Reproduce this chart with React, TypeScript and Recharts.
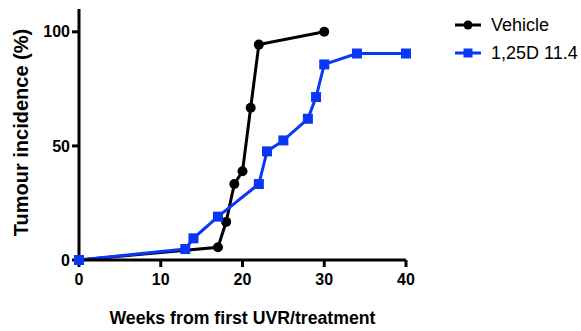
import React from "react";
import { LineChart, Line, XAxis, YAxis } from "recharts";

const vehicleWeeks = [0, 17, 18, 19, 20, 21, 22, 30];
const vehicleIncidence = [0, 5.6, 16.7, 33.3, 38.9, 66.7, 94.4, 100];
const treatWeeks = [0, 13, 14, 17, 22, 23, 25, 28, 29, 30, 34, 40];
const treatIncidence = [0, 4.8, 9.5, 19.0, 33.3, 47.6, 52.4, 61.9, 71.4, 85.7, 90.5, 90.5];
const xTicks = [0, 10, 20, 30, 40];
const yTicks = [0, 50, 100];
const seriesNames = ["Vehicle", "1,25D 11.4"];

const BLUE = "#0a36f7";
const FONT = "'Liberation Sans', Arial, sans-serif";

const vehicleData = vehicleWeeks.map((w, i) => ({ week: w, value: vehicleIncidence[i] }));
const treatData = treatWeeks.map((w, i) => ({ week: w, value: treatIncidence[i] }));

const SquareDot = (props: any) => {
  const { cx, cy } = props;
  if (cx == null || cy == null) return null;
  return <rect x={cx - 5} y={cy - 5} width={10} height={10} fill={BLUE} />;
};

const LegendBox = () => (
  <div
    style={{
      position: "absolute",
      left: 455,
      top: 11,
      width: 126,
      fontFamily: FONT,
      fontSize: 18,
    }}
  >
    {[
      { name: seriesNames[0], color: "#000", marker: "circle" },
      { name: seriesNames[1], color: BLUE, marker: "square" },
    ].map((s, i) => (
      <div key={i} style={{ display: "flex", alignItems: "center", height: 28, whiteSpace: "nowrap" }}>
        <svg width={36} height={14}>
          <line x1={0} y1={7} x2={26} y2={7} stroke={s.color} strokeWidth={3} />
          {s.marker === "circle" ? (
            <circle cx={13} cy={7} r={4.5} fill={s.color} />
          ) : (
            <rect x={8.5} y={2.5} width={9} height={9} fill={s.color} />
          )}
        </svg>
        <span style={{ color: "#000" }}>{s.name}</span>
      </div>
    ))}
  </div>
);

export default function App() {
  return (
    <div style={{ position: "absolute", left: 0, top: 0, width: 581, height: 331 }}>
      <LineChart
        width={581}
        height={331}
        margin={{ top: 9, right: 175, bottom: 11, left: 0 }}
      >
        <XAxis
          dataKey="week"
          type="number"
          domain={[0, 40]}
          ticks={xTicks}
          allowDuplicatedCategory={false}
          height={60}
          axisLine={{ stroke: "#000", strokeWidth: 3 }}
          tickLine={{ stroke: "#000", strokeWidth: 3 }}
          tickSize={7}
          tickMargin={7}
          tick={{ fill: "#000", fontSize: 16, fontWeight: "bold", fontFamily: FONT }}
          label={{
            value: "Weeks from first UVR/treatment",
            position: "insideBottom",
            offset: -4,
            fill: "#000",
            fontSize: 17.7,
            fontWeight: "bold",
            fontFamily: FONT,
          }}
        />
        <YAxis
          dataKey="value"
          type="number"
          domain={[0, 110]}
          ticks={yTicks}
          width={79}
          axisLine={{ stroke: "#000", strokeWidth: 3 }}
          tickLine={{ stroke: "#000", strokeWidth: 3 }}
          tickSize={7}
          tick={{ fill: "#000", fontSize: 16, fontWeight: "bold", fontFamily: FONT }}
          label={{
            value: "Tumour incidence (%)",
            angle: -90,
            position: "insideLeft",
            offset: 21,
            dy: -2,
            fill: "#000",
            fontSize: 20,
            fontWeight: "bold",
            fontFamily: FONT,
            style: { textAnchor: "middle" },
          }}
        />
        <Line
          data={vehicleData}
          dataKey="value"
          name={seriesNames[0]}
          stroke="#000"
          strokeWidth={3}
          dot={{ r: 5, fill: "#000", stroke: "#000", strokeWidth: 0 }}
          isAnimationActive={false}
        />
        <Line
          data={treatData}
          dataKey="value"
          name={seriesNames[1]}
          stroke={BLUE}
          strokeWidth={3}
          dot={<SquareDot />}
          isAnimationActive={false}
        />
      </LineChart>
      <LegendBox />
    </div>
  );
}
